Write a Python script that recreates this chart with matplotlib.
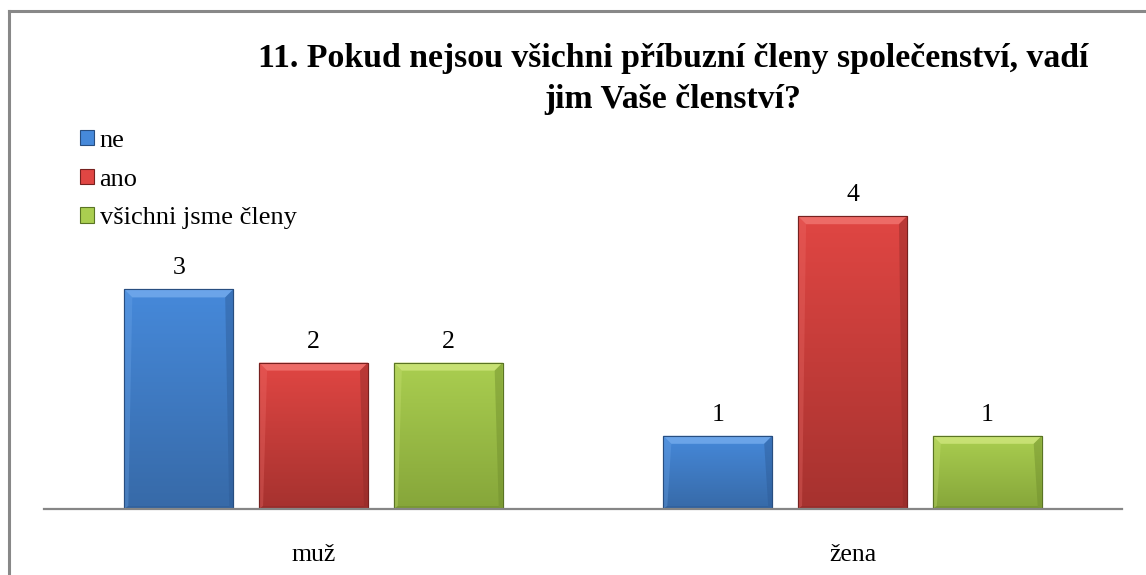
import numpy as np
import matplotlib
matplotlib.use("Agg")
import matplotlib.pyplot as plt
from matplotlib.patches import Polygon, Rectangle
from matplotlib.lines import Line2D
from matplotlib.colors import to_rgb

# ---- data ----
title = "11. Pokud nejsou všichni příbuzní členy společenství, vadí\njim Vaše členství?"
categories = ["muž", "žena"]
series_names = ["ne", "ano", "všichni jsme členy"]
values_ne = [3, 1]
values_ano = [2, 4]
values_vsichni = [2, 1]

W, H = 1146, 575
DPI = 100
fig = plt.figure(figsize=(W / DPI, H / DPI), dpi=DPI)
fig.patch.set_facecolor("white")

SERIF = ["Liberation Serif", "DejaVu Serif"]

# axes placement (pixels)
x_left, x_right = 44, 1122
y_base, y_top = 509, 200
ax = fig.add_axes([x_left / W, (H - y_base) / H, (x_right - x_left) / W, (y_base - y_top) / H])
ax.set_facecolor("none")

styles = [
    dict(top="#4689DA", bot="#376AA8", light="#72AAEC", dark="#2D5B96", edge="#284E80"),
    dict(top="#E04643", bot="#A6322F", light="#F0726E", dark="#8E2A28", edge="#76211F"),
    dict(top="#AACE50", bot="#86A63A", light="#CDE57A", dark="#6E8C2C", edge="#5A7424"),
]
series = [values_ne, values_ano, values_vsichni]
x = np.arange(len(categories))
width = 0.202
offsets = [-0.25, 0.0, 0.25]

px_y = 73.2
ymax = (y_base - y_top) / px_y
ax.set_xlim(-0.5, len(categories) - 0.5)
ax.set_ylim(0, ymax)
px_x = (x_right - x_left) / len(categories)

def mix(c1, c2, t):
    a = np.array(to_rgb(c1)); b = np.array(to_rgb(c2))
    return tuple(a * (1 - t) + b * t)

handles = []
for vals, st, off, name in zip(series, styles, offsets, series_names):
    bars = ax.bar(x + off, vals, width=width, color=st["top"], edgecolor=st["edge"],
                  linewidth=0.8, zorder=2, label=name)
    handles.append(bars)
    for b in bars:
        bx, by = b.get_x(), b.get_y()
        bw, bh = b.get_width(), b.get_height()
        n = 64
        grad = np.array([mix(st["top"], st["bot"], t) for t in np.linspace(0, 1, n)]).reshape(n, 1, 3)
        im = ax.imshow(grad, extent=[bx, bx + bw, by, by + bh], aspect="auto",
                       zorder=2.1, interpolation="bilinear", origin="upper")
        im.set_clip_path(b)
        dx = 8 / px_x
        dy = 8 / px_y
        dxs = 4 / px_x
        dys = 3 / px_y
        top_poly = [(bx, by + bh), (bx + bw, by + bh), (bx + bw - dx, by + bh - dy), (bx + dx, by + bh - dy)]
        left_poly = [(bx, by), (bx, by + bh), (bx + dx, by + bh - dy), (bx + dxs, by + dys)]
        right_poly = [(bx + bw, by), (bx + bw, by + bh), (bx + bw - dx, by + bh - dy), (bx + bw - dxs, by + dys)]
        bot_poly = [(bx, by), (bx + bw, by), (bx + bw - dxs, by + dys), (bx + dxs, by + dys)]
        ax.add_patch(Polygon(top_poly, closed=True, facecolor=st["light"], edgecolor="none", alpha=0.85, zorder=2.2))
        ax.add_patch(Polygon(left_poly, closed=True, facecolor=st["light"], edgecolor="none", alpha=0.3, zorder=2.2))
        ax.add_patch(Polygon(right_poly, closed=True, facecolor=st["dark"], edgecolor="none", alpha=0.45, zorder=2.2))
        ax.add_patch(Polygon(bot_poly, closed=True, facecolor=st["dark"], edgecolor="none", alpha=0.5, zorder=2.2))
        ax.add_patch(Rectangle((bx, by), bw, bh, facecolor="none", edgecolor=st["edge"], linewidth=0.8, zorder=2.3))
        ax.annotate(f"{int(bh)}", (bx + bw / 2, by + bh), xytext=(0, 10), textcoords="offset pixels",
                    ha="center", va="bottom", fontsize=18.5, family=SERIF, color="black")

ax.set_xlim(-0.5, len(categories) - 0.5)
ax.set_ylim(0, ymax)

for sp in ["top", "right", "left"]:
    ax.spines[sp].set_visible(False)
ax.spines["bottom"].set_color("#868686")
ax.spines["bottom"].set_linewidth(1.6)
ax.set_yticks([])
ax.set_xticks(x)
ax.set_xticklabels(categories, family=SERIF, fontsize=18.5)
ax.tick_params(axis="x", length=0, pad=25)

# title
fig.text(673 / W, 1 - 43 / H, title, ha="center", va="top", fontsize=24.3, fontweight="bold",
         family=SERIF, linespacing=1.42)

# legend
leg = fig.legend(handles=handles, labels=series_names, loc="upper left",
                 bbox_to_anchor=(80 / W, 1 - 130 / H), frameon=False,
                 prop=dict(family=SERIF, size=19), handlelength=0.52, handleheight=0.52,
                 handletextpad=0.22, labelspacing=0.63, borderaxespad=0, borderpad=0)

# outer border (top and left visible)
fig.add_artist(Line2D([9 / W, 9 / W], [0, 1 - 11 / H], color="#888888", linewidth=2.2, transform=fig.transFigure))
fig.add_artist(Line2D([9 / W, 1], [1 - 11 / H, 1 - 11 / H], color="#888888", linewidth=2.2, transform=fig.transFigure))

fig.savefig("out.png", dpi=DPI)
